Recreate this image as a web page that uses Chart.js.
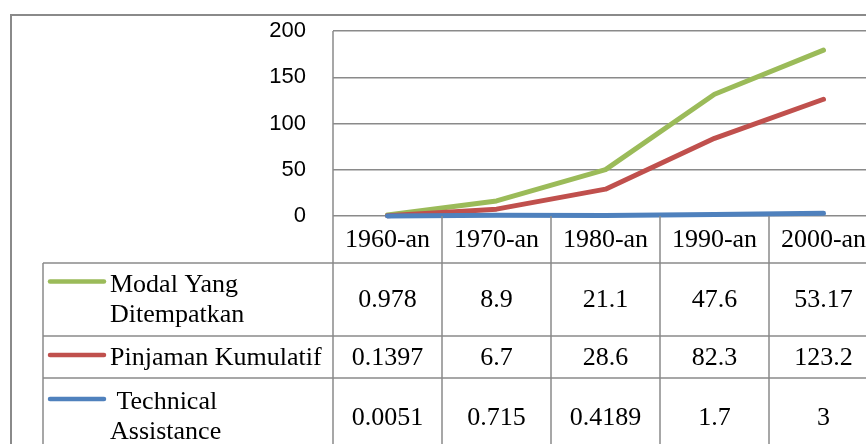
<!DOCTYPE html>
<html>
<head>
<meta charset="utf-8">
<script src="https://cdn.jsdelivr.net/npm/chart.js@4.4.1/dist/chart.umd.min.js"></script>
<style>
  html, body { margin: 0; padding: 0; background: #fff; overflow: hidden; }
  #wrap { width: 880px; height: 444px; position: relative; }
</style>
</head>
<body>
<div id="wrap"><canvas id="lineChart"></canvas></div>
<script>
// data (table values; the plot stacks the three series)
const categories = ['1960-an', '1970-an', '1980-an', '1990-an', '2000-an'];
const modal = [0.978, 8.9, 21.1, 47.6, 53.17];
const pinjaman = [0.1397, 6.7, 28.6, 82.3, 123.2];
const technical = [0.0051, 0.715, 0.4189, 1.7, 3];
const seriesNames = ['Modal Yang Ditempatkan', 'Pinjaman Kumulatif', 'Technical Assistance'];
const yTicks = [0, 50, 100, 150, 200];

const colors = {
    modal: '#9bbb59',
    pinjaman: '#c0504d',
    technical: '#4f81bd'
};
const lineGray = '#8a8a8a';

// rows of the data table under the plot, top to bottom
const tableRows = [
    { lines: ['Modal Yang', 'Ditempatkan'], values: modal, color: colors.modal, height: 73 },
    { lines: ['Pinjaman Kumulatif'], values: pinjaman, color: colors.pinjaman, height: 42 },
    { lines: [' Technical', 'Assistance'], values: technical, color: colors.technical, height: 78 }
];

const dataTablePlugin = {
    id: 'dataTable',
    afterDraw(chart) {
        const ctx = chart.ctx;
        const area = chart.chartArea;
        const x = chart.scales.x;
        const step = x.getPixelForValue(1) - x.getPixelForValue(0);
        const edges = categories.map((c, i) => x.getPixelForValue(i) - step / 2);
        edges.push(area.right);

        const tableLeft = 43;
        const headerTop = area.bottom;
        const headerBottom = headerTop + 47;
        let y = headerBottom;
        const rowTops = [];
        tableRows.forEach(r => { rowTops.push(y); y += r.height; });
        const tableBottom = y;

        ctx.save();
        // outer chart frame
        ctx.strokeStyle = lineGray;
        ctx.lineWidth = 2;
        ctx.beginPath();
        ctx.moveTo(11, 470);
        ctx.lineTo(11, 15);
        ctx.lineTo(900, 15);
        ctx.stroke();

        // table grid
        ctx.lineWidth = 1.5;
        ctx.beginPath();
        ctx.moveTo(area.left, area.top);
        ctx.lineTo(area.left, tableBottom);
        ctx.moveTo(area.right, area.top);
        ctx.lineTo(area.right, tableBottom);
        for (let i = 1; i < edges.length - 1; i++) {
            ctx.moveTo(edges[i], headerTop);
            ctx.lineTo(edges[i], tableBottom);
        }
        ctx.moveTo(tableLeft, headerBottom);
        ctx.lineTo(tableLeft, tableBottom);
        rowTops.concat([tableBottom]).forEach(ry => {
            ctx.moveTo(tableLeft, ry);
            ctx.lineTo(area.right, ry);
        });
        ctx.stroke();

        // header labels
        ctx.fillStyle = '#000';
        ctx.font = '26px "Liberation Serif"';
        ctx.textAlign = 'center';
        ctx.textBaseline = 'middle';
        categories.forEach((c, i) => {
            ctx.fillText(c, x.getPixelForValue(i), (headerTop + headerBottom) / 2 + 1);
        });

        // series rows
        tableRows.forEach((r, ri) => {
            const mid = rowTops[ri] + r.height / 2;
            categories.forEach((c, i) => {
                ctx.textAlign = 'center';
                ctx.textBaseline = 'middle';
                ctx.fillText(String(r.values[i]), x.getPixelForValue(i), mid + 1);
            });
            ctx.textAlign = 'left';
            ctx.textBaseline = 'alphabetic';
            const firstBase = r.lines.length > 1 ? mid - 8 : mid + 8;
            r.lines.forEach((t, li) => {
                ctx.fillText(t, 110, firstBase + li * 30);
            });
            // legend key
            ctx.strokeStyle = r.color;
            ctx.lineWidth = 4.5;
            ctx.lineCap = 'round';
            ctx.beginPath();
            ctx.moveTo(50, firstBase - 10);
            ctx.lineTo(104, firstBase - 10);
            ctx.stroke();
        });
        ctx.restore();
    }
};

const lineStyle = {
    borderWidth: 5,
    pointRadius: 0,
    borderCapStyle: 'round',
    borderJoinStyle: 'round',
    tension: 0,
    fill: false,
    clip: false
};

new Chart(document.getElementById('lineChart'), {
    type: 'line',
    data: {
        labels: categories,
        datasets: [
            Object.assign({ label: seriesNames[2], data: technical, borderColor: colors.technical }, lineStyle),
            Object.assign({ label: seriesNames[1], data: pinjaman, borderColor: colors.pinjaman }, lineStyle),
            Object.assign({ label: seriesNames[0], data: modal, borderColor: colors.modal }, lineStyle)
        ]
    },
    options: {
        responsive: true,
        maintainAspectRatio: false,
        animation: false,
        layout: {
            padding: { left: 0, top: 31, right: 2, bottom: 228 }
        },
        scales: {
            x: {
                display: false,
                offset: true
            },
            y: {
                stacked: true,
                min: 0,
                max: 200,
                afterFit(scale) {
                    scale.width = 333;
                    scale.paddingTop = 0;
                    scale.paddingBottom = 0;
                },
                afterBuildTicks(scale) { scale.ticks = yTicks.map(v => ({ value: v })); },
                ticks: {
                    padding: 27,
                    color: '#000',
                    font: { family: '"Liberation Sans"', size: 22 }
                },
                grid: { color: lineGray, lineWidth: 1.5, drawTicks: false },
                border: { display: false }
            }
        },
        plugins: {
            legend: { display: false },
            tooltip: { enabled: false }
        }
    },
    plugins: [dataTablePlugin]
});
</script>
</body>
</html>
